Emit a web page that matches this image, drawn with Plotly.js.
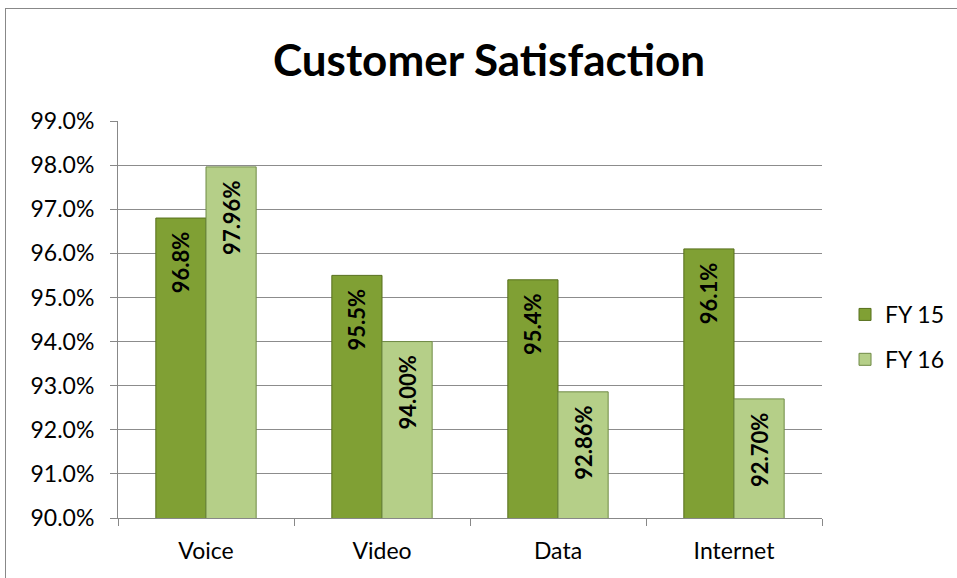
<!DOCTYPE html>
<html>
<head>
<meta charset="utf-8">
<script src="https://cdn.plot.ly/plotly-3.0.1.min.js"></script>
<style>
  html, body { margin: 0; padding: 0; background: #fff; }
  #wrap { position: relative; width: 957px; height: 578px; overflow: hidden; }
  #chart { width: 957px; height: 578px; }
  #frame { position: absolute; left: 5px; top: 8px; width: 960px; height: 580px;
           border: 1px solid #888; pointer-events: none; box-sizing: border-box; }
</style>
</head>
<body>
<div id="wrap">
  <div id="chart"></div>
  <div id="frame"></div>
</div>
<script>
const categories = ["Voice", "Video", "Data", "Internet"];
const fy15 = [0.968, 0.955, 0.954, 0.961];
const fy16 = [0.9796, 0.9400, 0.9286, 0.9270];
const yTicks = [0.90, 0.91, 0.92, 0.93, 0.94, 0.95, 0.96, 0.97, 0.98, 0.99];

const font = "Lato, 'Open Sans', 'DejaVu Sans', sans-serif";
const pad = "\u00A0\u00A0";

const traces = [
  {
    type: "bar", name: "FY 15", x: categories, y: fy15, legendgroup: "a",
    marker: { color: "#80a034", line: { color: "#566f1c", width: 1 } },
    texttemplate: "%{y:.1%}" + pad, textposition: "inside", insidetextanchor: "end",
    textangle: -90, textfont: { family: font, size: 22, color: "#000", weight: "bold" },
    hoverinfo: "none"
  },
  {
    type: "bar", name: "FY 16", x: categories, y: fy16, legendgroup: "b",
    marker: { color: "#b5cf88", line: { color: "#6f8a45", width: 1 } },
    texttemplate: "%{y:.2%}" + pad, textposition: "inside", insidetextanchor: "end",
    textangle: -90, textfont: { family: font, size: 22, color: "#000", weight: "bold" },
    hoverinfo: "none"
  }
];

const layout = {
  width: 957, height: 578,
  margin: { l: 118, r: 135, t: 121, b: 60 },
  paper_bgcolor: "#fff", plot_bgcolor: "#fff",
  font: { family: font, color: "#000" },
  title: {
    text: "<b>Customer Satisfaction</b>",
    font: { family: font, size: 44, color: "#000" },
    x: 0.511, xanchor: "center", y: 0.896, yanchor: "middle"
  },
  barmode: "group", bargap: 0.43, bargroupgap: 0,
  xaxis: {
    type: "category", showgrid: false,
    showline: true, linecolor: "#888", linewidth: 1,
    ticks: "outside", tickson: "boundaries", ticklen: 7, tickcolor: "#888",
    ticklabelstandoff: 12,
    tickfont: { family: font, size: 23, color: "#000" }
  },
  yaxis: {
    range: [0.90, 0.99], tickvals: yTicks, tickformat: ".1%",
    showgrid: true, gridcolor: "#8c8c8c", gridwidth: 1,
    showline: true, linecolor: "#888", linewidth: 1,
    ticks: "outside", ticklen: 7, tickcolor: "#888",
    ticklabelstandoff: 11,
    tickfont: { family: font, size: 23, color: "#000" },
    zeroline: false
  },
  showlegend: true,
  legend: {
    xref: "container", yref: "container",
    x: 0.883, xanchor: "left", y: 0.417, yanchor: "middle",
    font: { family: font, size: 23, color: "#000" },
    traceorder: "grouped", tracegroupgap: 12, itemwidth: 30
  }
};

Plotly.newPlot("chart", traces, layout, { displayModeBar: false, staticPlot: true });
</script>
</body>
</html>
